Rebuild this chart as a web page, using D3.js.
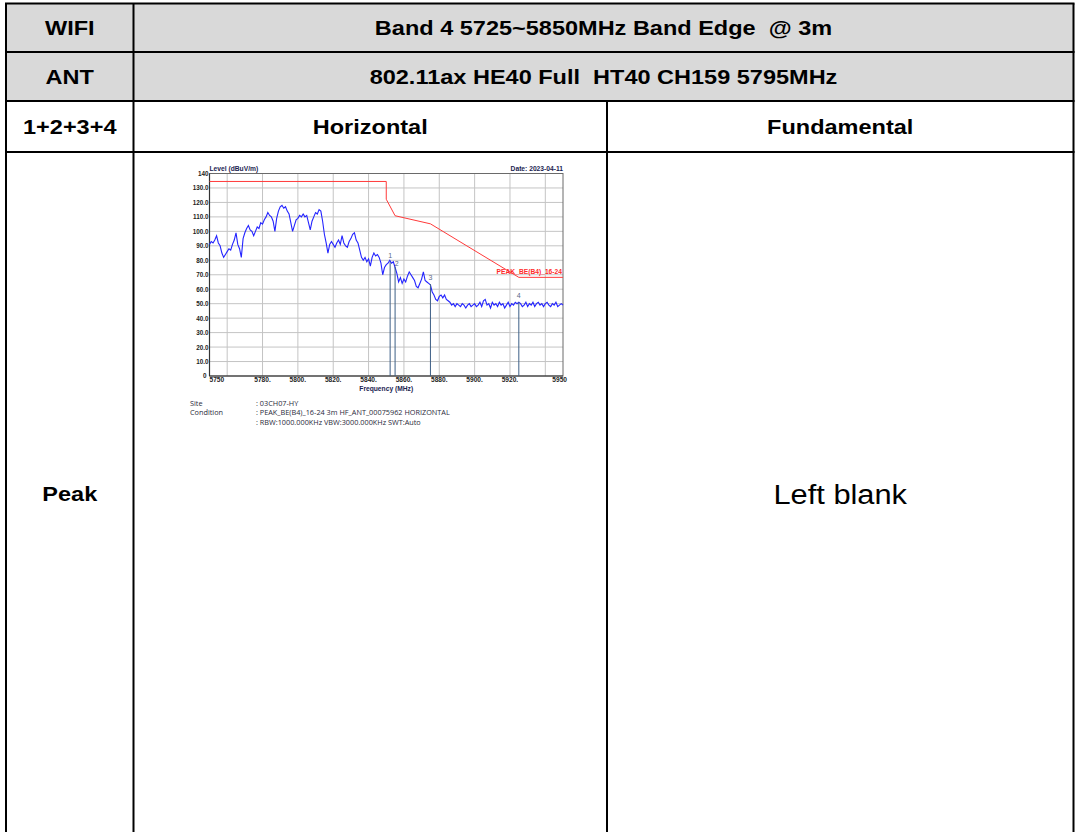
<!DOCTYPE html>
<html>
<head>
<meta charset="utf-8">
<script src="https://cdn.jsdelivr.net/npm/d3@7/dist/d3.min.js"></script>
<style>
  html, body { margin: 0; padding: 0; background: #fff; }
  svg { display: block; }
  text { white-space: pre; }
</style>
</head>
<body>
<script>
// ---------------- data ----------------
const headerRow1 = ["WIFI", "Band 4 5725~5850MHz Band Edge  @ 3m"];
const headerRow2 = ["ANT", "802.11ax HE40 Full  HT40 CH159 5795MHz"];
const headerRow3 = ["1+2+3+4", "Horizontal", "Fundamental"];
const bodyRow = ["Peak", "", "Left blank"];

const freqStart = 5750;
const freqStep = 1;
// measured level (dBuV/m), one value per MHz from 5750 to 5950
const traceLevels = [
  91, 93, 92, 94, 97, 92, 90, 85, 82, 84,
  86, 88, 87, 91, 94, 99, 91, 88, 82, 95,
  99, 102, 104, 101, 100, 97, 100, 103, 102, 106,
  105, 108, 110, 113, 111, 110, 107, 100, 109, 114,
  117, 118, 116, 117, 114, 112, 106, 100, 104, 108,
  109, 111, 110, 112, 110, 111, 106, 101, 107, 110,
  113, 112, 115, 114, 107, 98, 92, 85, 91, 93,
  91, 89, 92, 94, 91, 97, 92, 90, 89, 93,
  95, 98, 99, 94, 92, 87, 82, 80, 82, 79,
  81, 76, 82, 85, 83, 84, 82, 78, 70, 75,
  77, 78, 80, 78, 79, 75, 71, 65, 68, 64,
  67, 65, 69, 72, 70, 68, 66, 62, 61, 64,
  67, 72, 66, 65, 64, 63, 58, 56, 53, 52,
  55, 56, 54, 56, 53, 52, 51, 49, 50, 48,
  50, 49, 48, 50, 49, 47, 49, 50, 48, 49,
  50, 48, 49, 51, 48, 52, 53, 49, 50, 47,
  51, 49, 50, 48, 51, 49, 50, 47, 49, 51,
  48, 50, 49, 51, 50, 51, 50, 48, 49, 51,
  48, 50, 49, 51, 48, 50, 51, 49, 50, 48,
  50, 51, 49, 48, 50, 49, 51, 48, 49, 50,
  49
];

// limit line vertices
const limitFreqs  = [5750, 5850, 5850, 5855, 5875, 5925, 5950];
const limitLevels = [134.5, 134.5, 122.2, 110.8, 105.2, 68.2, 68.2];
const limitName = "PEAK_BE(B4)_16-24";

// markers
const markerIds    = ["1", "2", "3", "4"];
const markerFreqs  = [5852.2, 5855, 5875, 5925];
const markerLevels = [79, 75.5, 63.5, 51];

// axes
const yTicks = [0, 10, 20, 30, 40, 50, 60, 70, 80, 90, 100, 110, 120, 130, 140];
const yTickLabels = ["0", "10.0", "20.0", "30.0", "40.0", "50.0", "60.0", "70.0", "80.0", "90.0", "100.0", "110.0", "120.0", "130.0", "140"];
const xGrid = [5760, 5780, 5800, 5820, 5840, 5860, 5880, 5900, 5920, 5940];
const xTicks = [5750, 5780, 5800, 5820, 5840, 5860, 5880, 5900, 5920, 5950];
const xTickLabels = ["5750", "5780.", "5800.", "5820.", "5840.", "5860.", "5880.", "5900.", "5920.", "5950"];

const yTitle = "Level (dBuV/m)";
const xTitle = "Frequency (MHz)";
const dateText = "Date: 2023-04-11";
const infoKeys = ["Site", "Condition", ""];
const infoVals = [": 03CH07-HY", ": PEAK_BE(B4)_16-24 3m HF_ANT_00075962 HORIZONTAL", ": RBW:1000.000KHz VBW:3000.000KHz SWT:Auto"];

// ---------------- drawing ----------------
const W = 1075, H = 832;
const svg = d3.select("body").append("svg").attr("width", W).attr("height", H);
const font = "'Liberation Sans', Arial, sans-serif";

// table
const colX = [6, 133.5, 607, 1073.5];
const rowY = [3.5, 52, 101, 152, 840];
svg.append("rect").attr("x", colX[0]).attr("y", rowY[0]).attr("width", colX[3] - colX[0]).attr("height", rowY[2] - rowY[0]).attr("fill", "#d9d9d9");

const tl = svg.append("g").attr("stroke", "#000").attr("stroke-width", 2);
rowY.slice(0, 4).forEach(y => tl.append("line").attr("x1", colX[0] - 1).attr("x2", colX[3] + 1).attr("y1", y).attr("y2", y));
[colX[0], colX[1], colX[3]].forEach(x => tl.append("line").attr("x1", x).attr("x2", x).attr("y1", rowY[0]).attr("y2", H + 5));
tl.append("line").attr("x1", colX[2]).attr("x2", colX[2]).attr("y1", rowY[2]).attr("y2", H + 5);

function cellText(txt, cx, cy, size, weight, sx) {
  svg.append("text").attr("transform", `translate(${cx},${cy}) scale(${sx},1)`)
    .attr("text-anchor", "middle")
    .attr("dominant-baseline", "central").attr("font-family", font)
    .attr("font-size", size).attr("font-weight", weight).attr("fill", "#000").text(txt);
}
const midY = i => (rowY[i] + rowY[i + 1]) / 2;
const SX = 1.12;
cellText(headerRow1[0], (colX[0] + colX[1]) / 2, midY(0), 21, "bold", SX);
cellText(headerRow1[1], (colX[1] + colX[3]) / 2, midY(0), 21, "bold", SX);
cellText(headerRow2[0], (colX[0] + colX[1]) / 2, midY(1), 21, "bold", SX);
cellText(headerRow2[1], (colX[1] + colX[3]) / 2, midY(1), 21, "bold", SX);
cellText(headerRow3[0], (colX[0] + colX[1]) / 2, midY(2), 21, "bold", SX);
cellText(headerRow3[1], (colX[1] + colX[2]) / 2, midY(2), 21, "bold", SX);
cellText(headerRow3[2], (colX[2] + colX[3]) / 2, midY(2), 21, "bold", SX);
cellText(bodyRow[0], (colX[0] + colX[1]) / 2, 494, 21, "bold", SX);
cellText(bodyRow[2], (colX[2] + colX[3]) / 2, 494, 28, "normal", 1.1);

// chart
const x = d3.scaleLinear().domain([5750, 5950]).range([209.5, 563]);
const y = d3.scaleLinear().domain([0, 140]).range([376, 173.5]);
const ch = svg.append("g");

// gridlines
ch.append("g").selectAll("line").data(yTicks.filter(v => v > 0 && v < 140)).join("line")
  .attr("x1", x.range()[0]).attr("x2", x.range()[1]).attr("y1", d => y(d)).attr("y2", d => y(d))
  .attr("stroke", "#c4c4c4").attr("stroke-width", 1);
ch.append("g").selectAll("line").data(xGrid).join("line")
  .attr("x1", d => x(d)).attr("x2", d => x(d)).attr("y1", y(0)).attr("y2", y(140))
  .attr("stroke", "#c4c4c4").attr("stroke-width", 1);

// frame
ch.append("rect").attr("x", x.range()[0]).attr("y", y(140)).attr("width", x.range()[1] - x.range()[0]).attr("height", y(0) - y(140))
  .attr("fill", "none").attr("stroke", "#6a6a6a").attr("stroke-width", 1);
ch.append("line").attr("x1", x.range()[0]).attr("x2", x.range()[0]).attr("y1", y(0)).attr("y2", y(140)).attr("stroke", "#333").attr("stroke-width", 1.2);
ch.append("line").attr("x1", x.range()[0]).attr("x2", x.range()[1]).attr("y1", y(0)).attr("y2", y(0)).attr("stroke", "#333").attr("stroke-width", 1.2);

// y tick labels
ch.append("g").selectAll("text").data(yTicks).join("text")
  .attr("x", (d, i) => x.range()[0] - (i === 0 ? 3 : 1)).attr("y", (d, i) => y(d) + (i === 0 ? -1 : 0))
  .attr("text-anchor", "end").attr("dominant-baseline", "central")
  .attr("font-family", font).attr("font-size", 6.3).attr("font-weight", "bold").attr("fill", "#1c1c1c")
  .text((d, i) => yTickLabels[i]);

// x tick labels
ch.append("g").selectAll("text").data(xTicks).join("text")
  .attr("x", (d, i) => i === 0 ? x(d) : (i === xTicks.length - 1 ? x(d) + 4 : x(d)))
  .attr("y", y(0) + 6)
  .attr("text-anchor", (d, i) => i === 0 ? "start" : (i === xTicks.length - 1 ? "end" : "middle"))
  .attr("font-family", font).attr("font-size", 6.6).attr("font-weight", "bold").attr("fill", "#1c1c1c")
  .text((d, i) => xTickLabels[i]);

// titles
ch.append("text").attr("x", x.range()[0]).attr("y", y(140) - 3).attr("font-family", font).attr("font-size", 6.7)
  .attr("font-weight", "bold").attr("fill", "#1a2350").text(yTitle);
ch.append("text").attr("x", x.range()[1]).attr("y", y(140) - 3).attr("text-anchor", "end").attr("font-family", font).attr("font-size", 6.7)
  .attr("font-weight", "bold").attr("fill", "#1a2350").text(dateText);
ch.append("text").attr("x", (x.range()[0] + x.range()[1]) / 2).attr("y", y(0) + 15).attr("text-anchor", "middle").attr("font-family", font).attr("font-size", 6.7)
  .attr("font-weight", "bold").attr("fill", "#1a2350").text(xTitle);

// limit line
const limitData = limitFreqs.map((f, i) => [f, limitLevels[i]]);
ch.append("path").datum(limitData)
  .attr("d", d3.line().x(d => x(d[0])).y(d => y(d[1])))
  .attr("fill", "none").attr("stroke", "#ff3a3a").attr("stroke-width", 1);
ch.append("text").attr("x", x.range()[1] - 1).attr("y", y(limitLevels[limitLevels.length - 1]) - 3)
  .attr("text-anchor", "end").attr("font-family", font).attr("font-size", 6.7).attr("font-weight", "bold")
  .attr("fill", "#ff2a2a").text(limitName);

// trace
const traceData = traceLevels.map((v, i) => [freqStart + i * freqStep, v]);
ch.append("path").datum(traceData)
  .attr("d", d3.line().x(d => x(d[0])).y(d => y(d[1])))
  .attr("fill", "none").attr("stroke", "#2424ff").attr("stroke-width", 1.1);

// markers
const mk = ch.append("g");
markerIds.forEach((id, i) => {
  mk.append("line").attr("x1", x(markerFreqs[i])).attr("x2", x(markerFreqs[i]))
    .attr("y1", y(0)).attr("y2", y(markerLevels[i])).attr("stroke", "#3d5f86").attr("stroke-width", 1);
  mk.append("text").attr("x", x(markerFreqs[i]) + (i === 1 ? 1.5 : 0)).attr("y", y(markerLevels[i]) - (i === 1 ? 1 : 4))
    .attr("text-anchor", "middle").attr("font-family", font).attr("font-size", 7).attr("fill", "#5a6a88").text(id);
});

// info text
const info = svg.append("g").attr("font-family", "'Open Sans', 'Liberation Sans', sans-serif").attr("font-size", 7.3).attr("fill", "#2a2a3a");
infoKeys.forEach((k, i) => {
  info.append("text").attr("x", 190).attr("y", 405.5 + i * 9.5).text(k);
  info.append("text").attr("x", 256).attr("y", 405.5 + i * 9.5).text(infoVals[i]);
});
</script>
</body>
</html>
